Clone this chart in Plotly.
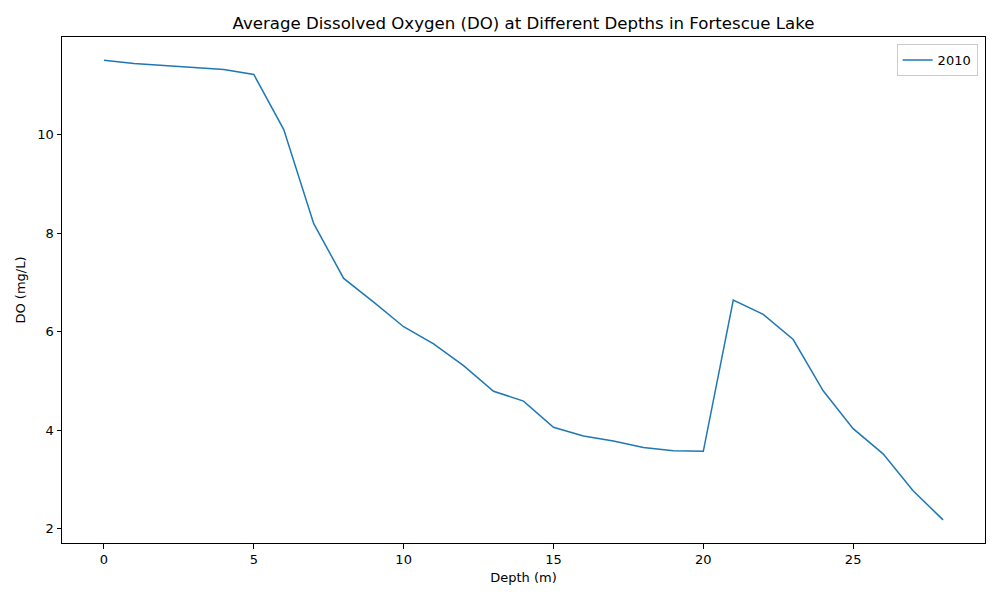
import plotly.graph_objects as go

depth = list(range(29))
do_2010 = [11.51, 11.44, 11.40, 11.36, 11.32, 11.22, 10.10, 8.19, 7.08, 6.60,
           6.10, 5.75, 5.31, 4.79, 4.59, 4.06, 3.88, 3.78, 3.65, 3.58,
           3.57, 6.64, 6.35, 5.84, 4.80, 4.03, 3.52, 2.77, 2.18]
series_name = "2010"
x_ticks = [0, 5, 10, 15, 20, 25]
y_ticks = [2, 4, 6, 8, 10]

fig = go.Figure()
fig.add_trace(go.Scatter(x=depth, y=do_2010, mode="lines", name=series_name,
                         line=dict(color="#1f77b4", width=1.5)))

axis_common = dict(showgrid=False, zeroline=False, showline=True, linecolor="black",
                   linewidth=1, mirror=True, ticks="outside", ticklen=4.5,
                   tickcolor="black", tickfont=dict(size=13, color="black"),
                   automargin=False)

fig.update_layout(
    width=1000, height=600,
    paper_bgcolor="white", plot_bgcolor="white",
    font=dict(family="DejaVu Sans", color="black", size=13),
    title=dict(text="Average Dissolved Oxygen (DO) at Different Depths in Fortescue Lake",
               x=0.5, xref="paper", xanchor="center", y=0.975, yanchor="middle",
               font=dict(size=16.6), automargin=False),
    margin=dict(l=54, r=23, t=29, b=65, autoexpand=False),
    xaxis=dict(range=[-1.4, 29.4], tickvals=x_ticks,
               title=dict(text="Depth (m)", standoff=6, font=dict(size=13)),
               **axis_common),
    yaxis=dict(range=[1.71, 11.98], tickvals=y_ticks,
               title=dict(text="DO (mg/L)", standoff=8, font=dict(size=13)),
               **axis_common),
    showlegend=True,
    legend=dict(x=0.992, y=0.986, xanchor="right", yanchor="top",
                bordercolor="#cccccc", borderwidth=1, bgcolor="white",
                itemwidth=30, font=dict(size=13)),
)

fig.write_html("out.html")
